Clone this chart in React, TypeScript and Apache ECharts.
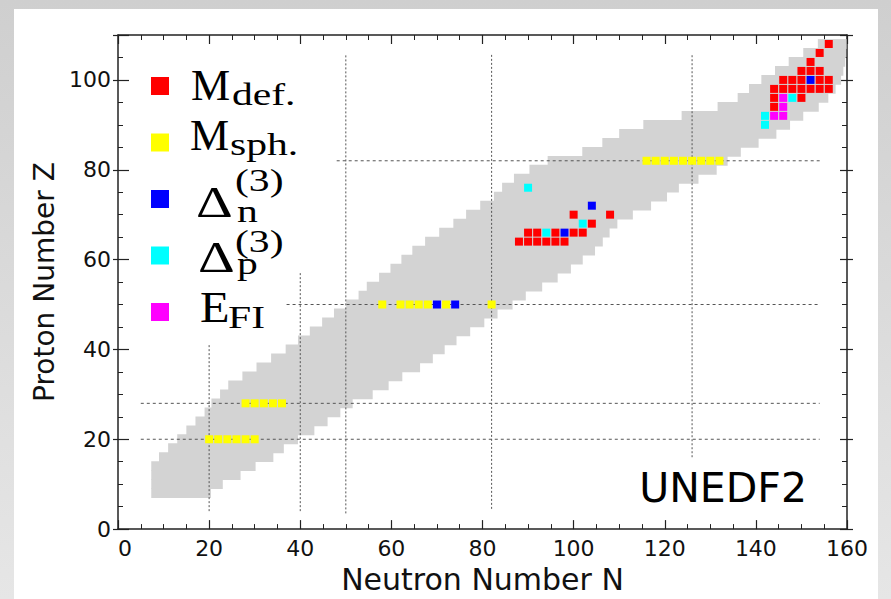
import React, { useEffect, useRef } from "react";
import * as echarts from "echarts";

// ---------- data ----------
const xTickValues = [0, 20, 40, 60, 80, 100, 120, 140, 160];
const yTickValues = [0, 20, 40, 60, 80, 100];

// grey nuclear landscape: rows of 2 units in Z (centre Z), left/right edge in N
const landscapeZ = [8, 10, 12, 14, 16, 18, 20, 22, 24, 26, 28, 30, 32, 34, 36, 38, 40, 42, 44, 46, 48, 50, 52, 54, 56, 58, 60, 62, 64, 66, 68, 70, 72, 74, 76, 78, 80, 82, 84, 86, 88, 90, 92, 94, 96, 98, 100, 102, 104, 106, 108];
const landscapeNMin = [7.3, 7.3, 7.3, 7.3, 9, 11, 13, 15, 17, 19, 20.5, 22.4, 24.2, 27.3, 30.4, 33.6, 36.8, 39.5, 42.1, 44.8, 47.4, 50.1, 52.8, 54.6, 57.3, 59.8, 62.2, 64.6, 67.4, 70.5, 73.6, 76.4, 79.5, 82.5, 84.3, 86.9, 90.3, 94.3, 101.9, 106.3, 110, 115.3, 123.7, 131.6, 136, 138.5, 141.2, 144.2, 147.2, 150.4, 153.6];
const landscapeNMax = [20.4, 23, 26.9, 30.2, 34.1, 36.4, 39.5, 43.1, 46, 48.8, 51.5, 55.9, 59.4, 62.4, 66.3, 69.1, 71.7, 74.3, 77.3, 80.4, 83.3, 86.6, 89.5, 93.1, 96.5, 99.4, 102, 104.7, 106.4, 107.9, 109.6, 113, 117, 120.5, 123.1, 127.4, 131.4, 133.8, 136.7, 140.6, 144.5, 147.5, 150.4, 153.8, 155.9, 157.5, 158.7, 159.2, 159.6, 159.8, 159.9];

// coloured nuclei [N, Z]
const mDefPoints = [
  [88, 64], [90, 64], [92, 64], [94, 64], [96, 64], [98, 64],
  [90, 66], [92, 66], [96, 66], [100, 66], [102, 66],
  [104, 68], [100, 70], [108, 70],
  [144, 94], [144, 96], [150, 96],
  [144, 98], [146, 98], [148, 98], [150, 98], [152, 98], [154, 98], [156, 98],
  [146, 100], [148, 100], [150, 100], [154, 100], [156, 100],
  [150, 102], [152, 102], [154, 102], [152, 104], [154, 106], [156, 108],
];
const mSphPoints = [
  [20, 20], [22, 20], [24, 20], [26, 20], [28, 20], [30, 20],
  [28, 28], [30, 28], [32, 28], [34, 28], [36, 28],
  [58, 50], [62, 50], [64, 50], [66, 50], [68, 50], [72, 50], [82, 50],
  [116, 82], [118, 82], [120, 82], [122, 82], [124, 82], [126, 82], [128, 82], [130, 82], [132, 82],
];
const deltaNPoints = [[70, 50], [74, 50], [98, 66], [104, 72], [152, 100]];
const deltaPPoints = [[94, 66], [102, 68], [90, 76], [142, 90], [142, 92], [148, 96]];
const eFIPoints = [[144, 92], [146, 92], [146, 94], [146, 96]];

// magic-number guide lines
const vertLineN = [20, 40, 50, 82, 126];
const vertLineZFrom = [4, 4, 3.5, 4.5, 16];
const vertLineZTo = [41, 57.4, 105.7, 105.7, 105.7];
const horizLineZ = [20, 28, 50, 82];
const horizLineNFrom = [5, 5, 37, 48];
const horizLineNTo = [154, 154, 154, 154];

const seriesNames = ["M_def.", "M_sph.", "Delta_n(3)", "Delta_p(3)", "E_FI"];
const seriesColors = ["#ff0000", "#ffff00", "#0000ff", "#00ffff", "#ff00ff"];
const legendBase = ["M", "M", "Δ", "Δ", "E"];
const legendSub = ["def.", "sph.", "n", "p", "FI"];
const legendSup = ["", "", "(3)", "(3)", ""];
const modelLabel = "UNEDF2";

export default function App() {
  const ref = useRef<HTMLDivElement>(null);

  useEffect(() => {
    if (!ref.current) return;
    const chart = echarts.init(ref.current, undefined, { renderer: "svg" });

    const axisColor = "#222";
    const tickFont = { fontSize: 22, fontFamily: "DejaVu Sans", color: "#111" };

    const landscape = landscapeZ.map((z, i) => [z, landscapeNMin[i], landscapeNMax[i]]);

    const lineSeries: any[] = [];
    vertLineN.forEach((n, i) => {
      lineSeries.push({
        type: "line",
        data: [[n, vertLineZFrom[i]], [n, vertLineZTo[i]]],
        showSymbol: false,
        symbol: "none",
        silent: true,
        z: 3,
        lineStyle: { color: "#555", width: 1, type: [2, 2] },
      });
    });
    horizLineZ.forEach((z, i) => {
      lineSeries.push({
        type: "line",
        data: [[horizLineNFrom[i], z], [horizLineNTo[i], z]],
        showSymbol: false,
        symbol: "none",
        silent: true,
        z: 3,
        lineStyle: { color: "#555", width: 1, type: [3, 3] },
      });
    });

    const pointSets = [mDefPoints, mSphPoints, deltaNPoints, deltaPPoints, eFIPoints];
    const scatterSeries = pointSets.map((pts, i) => ({
      name: seriesNames[i],
      type: "scatter",
      symbol: "rect",
      symbolSize: 8,
      data: pts,
      z: 5,
      itemStyle: { color: seriesColors[i], opacity: 1 },
      emphasis: { disabled: true },
    }));

    // legend labels: base glyph, subscript, superscript (pixel layout)
    const labelRows = [
      { bx: 191, by: 85, bs: 1.0, sx: 232, sy: 94.5, px: 0, py: 0 },
      { bx: 190, by: 135, bs: 1.0, sx: 230, sy: 144, px: 0, py: 0 },
      { bx: 196, by: 202, bs: 1.3, sx: 237, sy: 211.5, px: 235, py: 180 },
      { bx: 198, by: 257, bs: 1.3, sx: 237, sy: 263, px: 235, py: 241 },
      { bx: 200, by: 307, bs: 1.1, sx: 228, sy: 317.5, px: 0, py: 0 },
    ];
    const graphics: any[] = [];
    const textStyle = (text: string, size: number, lh: number) => ({
      text, fontSize: size, lineHeight: lh, fontFamily: "Liberation Serif", fill: "#000",
      textAlign: "left", textVerticalAlign: "middle", align: "left", verticalAlign: "middle",
    });
    labelRows.forEach((p, i) => {
      graphics.push({ type: "text", x: p.bx, y: p.by, scaleX: p.bs, z: 100, style: textStyle(legendBase[i], 44, 30) });
      graphics.push({ type: "text", x: p.sx, y: p.sy, scaleX: 1.3, z: 100, style: textStyle(legendSub[i], 32, 20) });
      if (legendSup[i]) {
        graphics.push({ type: "text", x: p.px, y: p.py, scaleX: 1.3, z: 100, style: textStyle(legendSup[i], 32, 20) });
      }
    });
    graphics.push({
      type: "text", x: 807, y: 488, z: 100,
      style: { text: modelLabel, fontSize: 41, fontFamily: "DejaVu Sans", fill: "#000", textAlign: "right", textVerticalAlign: "middle", align: "right", verticalAlign: "middle" },
    });

    const hiddenAxisBase = { axisLabel: { show: false }, splitLine: { show: false }, name: "" };

    chart.setOption({
      animation: false,
      backgroundColor: "transparent",
      grid: { left: 118, right: 44, top: 35, bottom: 68, containLabel: false },
      legend: {
        show: true,
        orient: "vertical",
        left: 151,
        top: 77,
        padding: 0,
        itemWidth: 18,
        itemHeight: 18,
        itemGap: 38.5,
        icon: "rect",
        selectedMode: false,
        data: seriesNames,
        formatter: () => "",
        textStyle: { fontSize: 1 },
      },
      xAxis: [
        {
          type: "value", min: 0, max: 160, interval: 20, position: "bottom",
          axisLine: { show: true, onZero: false, lineStyle: { color: axisColor, width: 1.5 } },
          axisTick: { show: true, inside: true, length: 9, lineStyle: { color: axisColor, width: 1.2 } },
          axisLabel: { ...tickFont, margin: 8, alignMinLabel: "left", formatter: (v: number) => (xTickValues.includes(v) ? String(v) : "") },
          splitLine: { show: false },
          name: "Neutron Number N", nameLocation: "middle", nameGap: 33,
          nameTextStyle: { fontSize: 30, fontFamily: "DejaVu Sans", color: "#111" },
        },
        {
          ...hiddenAxisBase, type: "value", min: 0, max: 160, interval: 5, position: "bottom",
          axisLine: { show: false, onZero: false },
          axisTick: { show: true, inside: true, length: 5, lineStyle: { color: axisColor, width: 1 } },
        },
        {
          ...hiddenAxisBase, type: "value", min: 0, max: 160, interval: 20, position: "top",
          axisLine: { show: true, onZero: false, lineStyle: { color: axisColor, width: 1.5 } },
          axisTick: { show: true, inside: true, length: 9, lineStyle: { color: axisColor, width: 1.2 } },
        },
        {
          ...hiddenAxisBase, type: "value", min: 0, max: 160, interval: 5, position: "top",
          axisLine: { show: false, onZero: false },
          axisTick: { show: true, inside: true, length: 5, lineStyle: { color: axisColor, width: 1 } },
        },
      ],
      yAxis: [
        {
          type: "value", min: 0, max: 110, interval: 20, position: "left",
          axisLine: { show: true, onZero: false, lineStyle: { color: axisColor, width: 1.5 } },
          axisTick: { show: true, inside: true, length: 11, lineStyle: { color: axisColor, width: 1.2 } },
          axisLabel: { ...tickFont, margin: 7, formatter: (v: number) => (yTickValues.includes(v) ? String(v) : "") },
          splitLine: { show: false },
          name: "Proton Number Z", nameLocation: "middle", nameGap: 60, nameRotate: 90,
          nameTextStyle: { fontSize: 28, fontFamily: "DejaVu Sans", color: "#111" },
        },
        {
          ...hiddenAxisBase, type: "value", min: 0, max: 110, interval: 20, position: "left",
          axisLine: { show: false, onZero: false },
          axisTick: { show: true, inside: false, length: 5, lineStyle: { color: axisColor, width: 1.2 } },
        },
        {
          ...hiddenAxisBase, type: "value", min: 0, max: 110, interval: 5, position: "left",
          axisLine: { show: false, onZero: false },
          axisTick: { show: true, inside: true, length: 5, lineStyle: { color: axisColor, width: 1 } },
        },
        {
          ...hiddenAxisBase, type: "value", min: 0, max: 110, interval: 20, position: "right",
          axisLine: { show: true, onZero: false, lineStyle: { color: axisColor, width: 1.5 } },
          axisTick: { show: true, inside: true, length: 7, lineStyle: { color: axisColor, width: 1.2 } },
        },
        {
          ...hiddenAxisBase, type: "value", min: 0, max: 110, interval: 20, position: "right",
          axisLine: { show: false, onZero: false },
          axisTick: { show: true, inside: false, length: 6, lineStyle: { color: axisColor, width: 1.2 } },
        },
        {
          ...hiddenAxisBase, type: "value", min: 0, max: 110, interval: 5, position: "right",
          axisLine: { show: false, onZero: false },
          axisTick: { show: true, inside: true, length: 5, lineStyle: { color: axisColor, width: 1 } },
        },
      ],
      series: [
        {
          type: "custom",
          silent: true,
          z: 1,
          data: landscape,
          dimensions: ["Z", "Nmin", "Nmax"],
          encode: { x: [1, 2], y: 0 },
          renderItem: (params: any, api: any) => {
            const z = api.value(0);
            const n0 = api.value(1);
            const n1 = api.value(2);
            const p0 = api.coord([n0, z + 1]);
            const p1 = api.coord([n1, z - 1]);
            return {
              type: "rect",
              shape: { x: p0[0], y: p0[1] - 0.4, width: p1[0] - p0[0], height: p1[1] - p0[1] + 0.8 },
              style: { fill: "#d3d3d3", stroke: null },
            };
          },
        },
        ...lineSeries,
        ...scatterSeries,
      ],
      graphic: graphics,
    });

    return () => chart.dispose();
  }, []);

  return (
    <div style={{ position: "fixed", left: 0, top: 0, width: 891, height: 599, background: "linear-gradient(to bottom, #cfcfcf, #e6e6e6)", overflow: "hidden" }}>
      <div style={{ position: "absolute", left: 14, top: 9, width: 864, height: 590, background: "#ffffff" }} />
      <div ref={ref} style={{ position: "absolute", left: 0, top: 0, width: 891, height: 599 }} />
    </div>
  );
}
